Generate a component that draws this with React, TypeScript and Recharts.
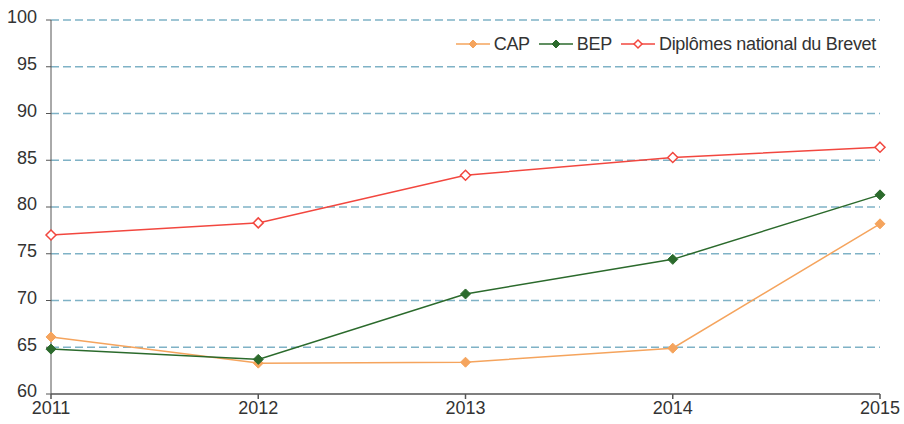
import { LineChart, Line, XAxis, YAxis, CartesianGrid } from 'recharts';

const years = [2011, 2012, 2013, 2014, 2015];
const cap = [66.1, 63.3, 63.4, 64.9, 78.2];
const bep = [64.8, 63.7, 70.7, 74.4, 81.3];
const brevet = [77.0, 78.3, 83.4, 85.3, 86.4];
const yTicks = [60, 65, 70, 75, 80, 85, 90, 95, 100];

const data = years.map((year, i) => ({ year, cap: cap[i], bep: bep[i], brevet: brevet[i] }));

const SERIES = [
  { key: 'cap', name: 'CAP', color: '#F5A45D', hollow: false },
  { key: 'bep', name: 'BEP', color: '#2B6A2C', hollow: false },
  { key: 'brevet', name: 'Diplômes national du Brevet', color: '#F2473F', hollow: true },
];

const FONT = '"Liberation Sans", Arial, sans-serif';

const diamond = (color: string, hollow: boolean, r = 5) => (props: any) => {
  const { cx, cy, index } = props;
  if (cx == null || cy == null) return <g key={index} />;
  const pts = `${cx},${cy - r} ${cx + r},${cy} ${cx},${cy + r} ${cx - r},${cy}`;
  return (
    <polygon
      key={index}
      points={pts}
      fill={hollow ? '#fff' : color}
      stroke={color}
      strokeWidth={hollow ? 1.5 : 1}
    />
  );
};

function ChartLegend() {
  return (
    <div
      style={{
        position: 'absolute',
        top: 33,
        right: 26,
        display: 'flex',
        alignItems: 'center',
        fontFamily: FONT,
        fontSize: 18,
        letterSpacing: -0.3,
        color: '#333',
        lineHeight: '22px',
        background: '#fff',
        padding: '0 2px',
      }}
    >
      {SERIES.map((s) => (
        <div key={s.key} style={{ display: 'flex', alignItems: 'center', marginLeft: 8 }}>
          <svg width={36} height={12}>
            <line x1={1} y1={6} x2={35} y2={6} stroke={s.color} strokeWidth={1.5} />
            <polygon
              points="18,2 22,6 18,10 14,6"
              fill={s.hollow ? '#fff' : s.color}
              stroke={s.color}
              strokeWidth={s.hollow ? 1.5 : 1}
            />
          </svg>
          <span style={{ marginLeft: 3 }}>{s.name}</span>
        </div>
      ))}
    </div>
  );
}

export default function App() {
  return (
    <div style={{ position: 'absolute', left: 0, top: 0, width: 904, height: 424, background: '#fff' }}>
      <LineChart width={904} height={424} data={data} margin={{ top: 20, right: 24, bottom: 0, left: 6 }}>
        <CartesianGrid
          vertical={false}
          stroke="#7FB2C6"
          strokeDasharray="8 4"
          strokeWidth={1.3}
          horizontalValues={[65, 70, 75, 80, 85, 90, 95, 100]}
        />
        <XAxis
          dataKey="year"
          type="number"
          domain={[2011, 2015]}
          ticks={years}
          height={30}
          stroke="#555"
          strokeWidth={1.5}
          tickSize={5}
          tick={{ fill: '#333', fontSize: 18, fontFamily: FONT }}
          tickMargin={2}
        />
        <YAxis
          domain={[60, 100]}
          ticks={yTicks}
          width={45}
          stroke="#555"
          tickSize={5}
          tickMargin={9}
          interval={0}
          tick={{ fill: '#333', fontSize: 18, fontFamily: FONT, dy: -3 }}
        />
        {SERIES.map((s) => (
          <Line
            key={s.key}
            dataKey={s.key}
            name={s.name}
            stroke={s.color}
            strokeWidth={1.5}
            dot={diamond(s.color, s.hollow)}
            activeDot={false}
            isAnimationActive={false}
          />
        ))}
      </LineChart>
      <ChartLegend />
    </div>
  );
}
